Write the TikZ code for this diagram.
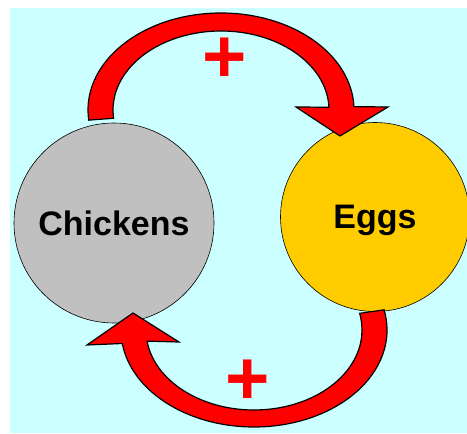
\documentclass[tikz,border=0pt]{standalone}
\usepackage{fontspec}
\setmainfont{Liberation Sans}
\usetikzlibrary{calc}
\definecolor{bgcyan}{HTML}{CCFFFF}
\definecolor{hengray}{HTML}{C0C0C0}
\definecolor{eggyellow}{HTML}{FFCC00}
\definecolor{loopred}{HTML}{FF0000}
\begin{document}
\begin{tikzpicture}[x=1pt,y=1pt,
    ball/.style={circle,draw=black,line width=0.6pt,inner sep=0pt,text depth=0pt,
      font=\bfseries\fontsize{34}{40}\selectfont},
    looparrow/.style={fill=loopred,draw=black,line width=1.2pt,line join=miter},
    plussign/.style={text=loopred,inner sep=0pt,font=\bfseries\fontsize{76}{80}\selectfont}]
  \useasboundingbox (0,0) rectangle (467,434);
  \fill[bgcyan] (10,1) rectangle (467,426);
  % the two populations
  \node[ball,fill=hengray,minimum size=200pt] (chickens) at (114,211) {Chickens};
  \node[ball,fill=eggyellow,minimum size=189pt] (eggs) at (375,217) {Eggs};
  % centres of the two loop arcs
  \coordinate (upper) at (221,324);
  \coordinate (lower) at (254,104);
  % chickens lay eggs
  \draw[looparrow] ($(upper)+(186:133 and 97)$)
      arc[start angle=186,end angle=2,x radius=133,y radius=97]
      -- (388,327) -- (340,298) -- (296,327)
      -- ($(upper)+(2:108 and 79)$)
      arc[start angle=2,end angle=186,x radius=108,y radius=79] -- cycle;
  % eggs hatch into chickens
  \draw[looparrow] ($(lower)+(12:133 and 97)$)
      arc[start angle=12,end angle=-172,x radius=133,y radius=97]
      -- (87,89) -- (133,121) -- (179,92)
      -- ($(lower)+(-172:108 and 80)$)
      arc[start angle=-172,end angle=12,x radius=108,y radius=80] -- cycle;
  \node[plussign] (plustop) at (225,374) {+};
  \node[plussign] (plusbottom) at (248,52) {+};
\end{tikzpicture}
\end{document}
